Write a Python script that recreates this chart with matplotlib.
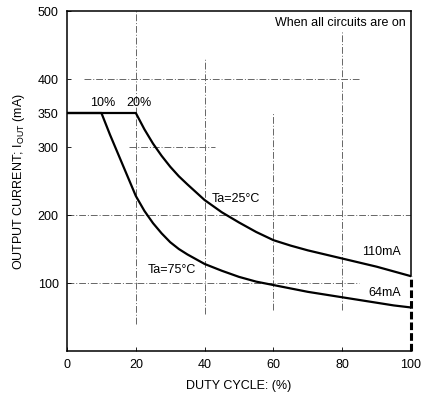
import matplotlib.pyplot as plt
import numpy as np

plt.rcParams['font.family'] = ['Liberation Sans', 'DejaVu Sans']

# duty cycle (%) vs maximum output current (mA), all circuits on
duty_25 = [0, 20, 22.5, 25, 27.5, 30, 32.5, 35, 40, 45, 50, 55, 60, 65, 70, 75, 80, 85, 90, 95, 100]
iout_25 = [350, 350, 326, 305, 287, 271, 257, 245, 222, 204, 189, 175, 163, 155, 148, 142, 136, 130, 124, 117, 110]

duty_75 = [0, 10, 12.5, 15, 17.5, 20, 22.5, 25, 27.5, 30, 32.5, 35, 40, 45, 50, 55, 60, 65, 70, 75, 80, 85, 90, 95, 100]
iout_75 = [350, 350, 318, 288, 258, 228, 206, 188, 173, 160, 150, 142, 128, 118, 109, 102, 97, 92, 87, 83, 79, 75, 71, 67, 64]

xticks = [0, 20, 40, 60, 80, 100]
yticks = [100, 200, 300, 350, 400, 500]

fig = plt.figure(figsize=(4.22, 4.0), dpi=100)
ax = fig.add_axes([0.1588, 0.1225, 0.8152, 0.85])
ax.set_xlim(0, 100)
ax.set_ylim(0, 500)

# broken dash-dot grid, as printed on the sheet
grid_kw = dict(color='0.4', lw=0.7, ls=(0, (7, 2, 1, 2)), zorder=1)
vsegs = [(20, 40, 500), (40, 55, 430), (60, 60, 350), (80, 60, 470)]
hsegs = [(100, 0, 85), (200, 0, 100), (300, 18, 43), (400, 5, 85)]
for x, y0, y1 in vsegs:
    ax.plot([x, x], [y0, y1], **grid_kw)
for y, x0, x1 in hsegs:
    ax.plot([x0, x1], [y, y], **grid_kw)

ax.plot(duty_25, iout_25, color='black', lw=1.6, zorder=3)
ax.plot(duty_75, iout_75, color='black', lw=1.6, zorder=3)

# thick dashed edge at 100 % duty
ax.plot([100, 100], [0, iout_25[-1]], color='black', lw=2.2,
        ls=(0, (2.5, 1)), zorder=4, clip_on=False)

for s in ax.spines.values():
    s.set_linewidth(1.1)
ax.spines['right'].set_bounds(iout_25[-1], 500)

ax.set_xticks(xticks)
ax.set_yticks(yticks)
ax.tick_params(direction='in', length=3, width=0.6, labelsize=9, pad=6)

fs = 9
ax.text(98.5, 482, 'When all circuits are on', ha='right', va='center', fontsize=fs)
ax.text(10.5, 364, '10%', ha='center', va='center', fontsize=fs)
ax.text(21, 364, '20%', ha='center', va='center', fontsize=fs)
ax.text(42, 224, 'Ta=25°C', ha='left', va='center', fontsize=fs)
ax.text(23.5, 119, 'Ta=75°C', ha='left', va='center', fontsize=fs)
ax.text(97, 146, '110mA', ha='right', va='center', fontsize=fs)
ax.text(97, 86, '64mA', ha='right', va='center', fontsize=fs)

ax.set_xlabel('DUTY CYCLE: (%)', fontsize=fs, labelpad=6)
ax.set_ylabel('OUTPUT CURRENT; I$_{\\mathregular{OUT}}$ (mA)', fontsize=fs, labelpad=8)

fig.savefig('out.png', dpi=100)
